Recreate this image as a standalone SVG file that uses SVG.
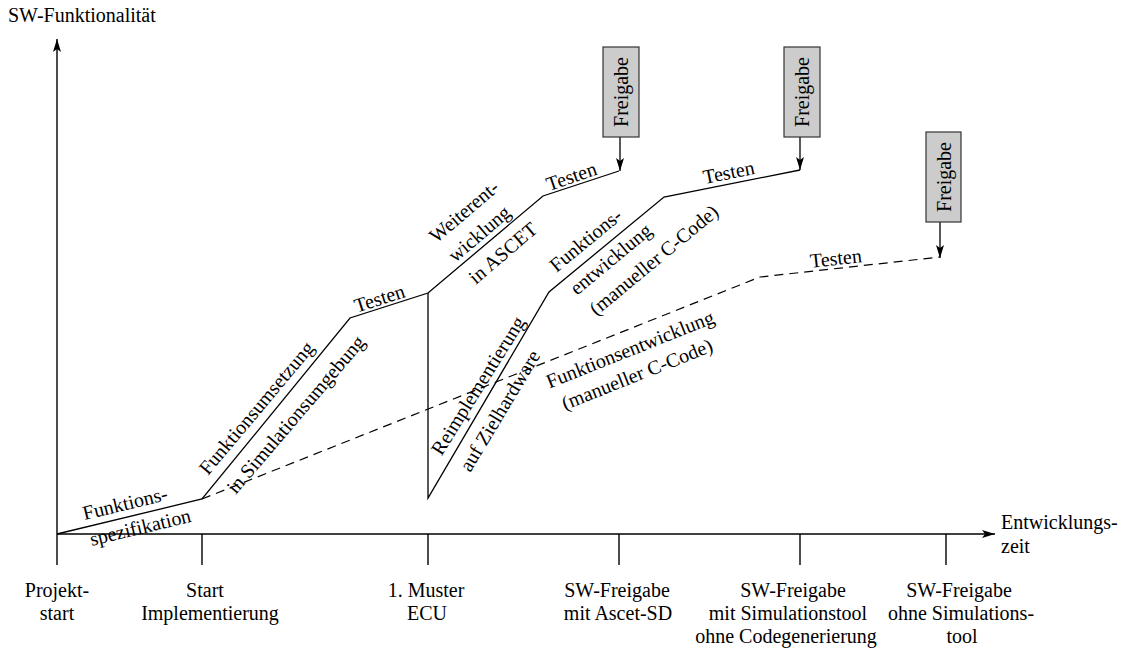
<svg xmlns="http://www.w3.org/2000/svg" width="1127" height="652" viewBox="0 0 1127 652">
<style>
text{font-family:"Liberation Serif","Times New Roman",serif;font-size:20px;fill:#000}
.c{text-anchor:middle}
.ln{fill:none;stroke:#000;stroke-width:1.3}
.ax{fill:none;stroke:#000;stroke-width:1.4}
.ds{fill:none;stroke:#000;stroke-width:1.2;stroke-dasharray:9,6}
.box{fill:#cccccc;stroke:#333;stroke-width:1.2}
</style>
<defs>
<marker id="ah" markerWidth="14" markerHeight="8" refX="13" refY="4" orient="auto" markerUnits="userSpaceOnUse">
<path d="M0,0 L13,4 L0,8 L3,4 z" fill="#000"/>
</marker>
</defs>
<rect width="1127" height="652" fill="#fff"/>
<g id="axes">
<line class="ax" x1="57" y1="565" x2="57" y2="39" marker-end="url(#ah)"/>
<line class="ax" x1="57" y1="534" x2="995" y2="534" marker-end="url(#ah)"/>
<line class="ax" x1="202" y1="534" x2="202" y2="565"/>
<line class="ax" x1="428" y1="534" x2="428" y2="565"/>
<line class="ax" x1="619" y1="534" x2="619" y2="565"/>
<line class="ax" x1="800" y1="534" x2="800" y2="565"/>
<line class="ax" x1="946" y1="534" x2="946" y2="565"/>
<text x="8" y="22">SW-Funktionalität</text>
<text x="1001" y="529">Entwicklungs-</text>
<text x="1001" y="553">zeit</text>
</g>
<g id="milestones">
<text class="c" x="57" y="597">Projekt-</text>
<text class="c" x="57" y="620">start</text>
<text class="c" x="205" y="597">Start</text>
<text class="c" x="210" y="620">Implementierung</text>
<text class="c" x="426" y="597">1. Muster</text>
<text class="c" x="427" y="620">ECU</text>
<text class="c" x="617" y="597">SW-Freigabe</text>
<text class="c" x="618" y="620">mit Ascet-SD</text>
<text class="c" x="793" y="597">SW-Freigabe</text>
<text class="c" x="788" y="620">mit Simulationstool</text>
<text class="c" x="786" y="643">ohne Codegenerierung</text>
<text class="c" x="959" y="597">SW-Freigabe</text>
<text class="c" x="961" y="620">ohne Simulations-</text>
<text class="c" x="962" y="643">tool</text>
</g>
<g id="connectors">
<path class="ln" d="M57,534 L202,499 L350,318 L428,293 L543,196 L619,171"/>
<path class="ln" d="M428,293 L428,498 L549,292 L664,197 L800,170"/>
<path class="ds" d="M202,499 L760,277 L940,257"/>
<line class="ln" x1="620" y1="137" x2="620" y2="171" marker-end="url(#ah)"/>
<line class="ln" x1="800" y1="137" x2="800" y2="170" marker-end="url(#ah)"/>
<line class="ln" x1="940" y1="222" x2="940" y2="258" marker-end="url(#ah)"/>
</g>
<g id="freigabe1">
<rect class="box" x="603" y="47" width="36" height="90"/>
<text class="c" transform="translate(621,92) rotate(-90)" y="7">Freigabe</text>
</g>
<g id="freigabe2">
<rect class="box" x="784" y="47" width="36" height="90"/>
<text class="c" transform="translate(802,92) rotate(-90)" y="7">Freigabe</text>
</g>
<g id="freigabe3">
<rect class="box" x="926" y="132" width="35" height="90"/>
<text class="c" transform="translate(943.5,177) rotate(-90)" y="7">Freigabe</text>
</g>
<g id="labels">
<text class="c" transform="translate(126,507) rotate(-13.6)" y="3">Funktions-</text>
<text class="c" transform="translate(140,526) rotate(-13.6)" y="8">spezifikation</text>
<text class="c" transform="translate(260,411) rotate(-50)" y="2">Funktionsumsetzung</text>
<text class="c" transform="translate(294,413) rotate(-49.5)" y="9">in Simulationsumgebung</text>
<text class="c" transform="translate(380,300) rotate(-17.8)" y="5">Testen</text>
<text class="c" transform="translate(467,215) rotate(-40.4)" y="2">Weiterent-</text>
<text class="c" transform="translate(483,238) rotate(-40.4)" y="1">wicklung</text>
<text class="c" transform="translate(502,252) rotate(-40.4)" y="8">in ASCET</text>
<text class="c" transform="translate(572,178) rotate(-19)" y="5">Testen</text>
<text class="c" transform="translate(482,388) rotate(-58) " y="2">Reimplementierung</text>
<text class="c" transform="translate(497,409) rotate(-59)" y="10">auf Zielhardware</text>
<text class="c" transform="translate(588,243) rotate(-39.6)" y="3">Funktions-</text>
<text class="c" transform="translate(610,258) rotate(-39.6)" y="8">entwicklung</text>
<text class="c" transform="translate(653,259) rotate(-39.6)" y="8">(manueller C-Code)</text>
<text class="c" transform="translate(729,174) rotate(-11.3)" y="5">Testen</text>
<text class="c" transform="translate(630,349) rotate(-21.7)" y="7">Funktionsentwicklung</text>
<text class="c" transform="translate(637,374) rotate(-21.7)" y="7">(manueller C-Code)</text>
<text class="c" transform="translate(836,260) rotate(-6.3)" y="5">Testen</text>
</g>
</svg>
